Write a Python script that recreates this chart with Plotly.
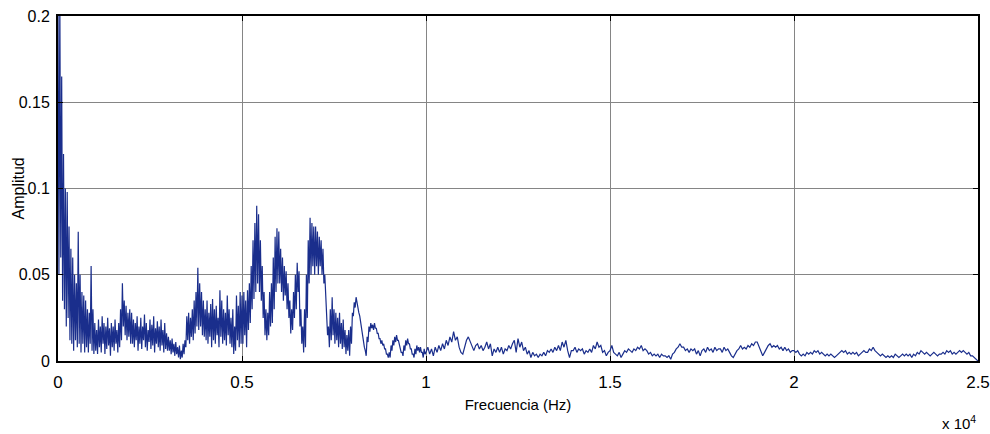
import numpy as np
import plotly.graph_objects as go

# ---- Spectrum data -------------------------------------------------------
# 0-10 kHz: noisy band, given as local peaks (at k*50 Hz) and troughs
# (at k*50 + 25 Hz), one 1 kHz row per line.
BAND_STEP_HZ = 50

peaks_0_10k = [
    0.21, 0.21, 0.165, 0.12, 0.1, 0.098, 0.078, 0.065, 0.06, 0.05, 0.045, 0.075, 0.05, 0.04, 0.038, 0.035, 0.03, 0.028, 0.055, 0.03,
    0.022, 0.018, 0.024, 0.02, 0.026, 0.022, 0.02, 0.025, 0.019, 0.022, 0.02, 0.024, 0.018, 0.022, 0.03, 0.045, 0.035, 0.032, 0.028, 0.03,
    0.028, 0.024, 0.022, 0.026, 0.02, 0.025, 0.02, 0.027, 0.022, 0.018, 0.024, 0.021, 0.026, 0.019, 0.023, 0.02, 0.024, 0.018, 0.022, 0.016,
    0.014, 0.012, 0.013, 0.01, 0.011, 0.008, 0.009, 0.006, 0.01, 0.012, 0.026, 0.028, 0.025, 0.03, 0.035, 0.04, 0.054, 0.045, 0.04, 0.035,
    0.03, 0.035, 0.028, 0.033, 0.036, 0.03, 0.032, 0.025, 0.041, 0.035, 0.03, 0.028, 0.038, 0.03, 0.025, 0.03, 0.02, 0.038, 0.032, 0.04,
    0.038, 0.04, 0.035, 0.041, 0.045, 0.055, 0.07, 0.08, 0.09, 0.085, 0.07, 0.055, 0.04, 0.03, 0.028, 0.04, 0.045, 0.06, 0.072, 0.077,
    0.075, 0.065, 0.06, 0.055, 0.052, 0.045, 0.035, 0.03, 0.04, 0.05, 0.057, 0.052, 0.03, 0.02, 0.03, 0.05, 0.07, 0.083, 0.08, 0.078,
    0.078, 0.075, 0.072, 0.07, 0.065, 0.05, 0.03, 0.02, 0.03, 0.037, 0.03, 0.028, 0.025, 0.028, 0.022, 0.024, 0.018, 0.015, 0.018, 0.02,
    0.028, 0.034, 0.037, 0.032, 0.026, 0.02, 0.012, 0.006, 0.014, 0.02, 0.022, 0.021, 0.022, 0.019, 0.016, 0.013, 0.012, 0.01, 0.007, 0.004,
    0.005, 0.009, 0.012, 0.014, 0.015, 0.012, 0.008, 0.005, 0.009, 0.012, 0.013, 0.01, 0.007, 0.004, 0.007, 0.009, 0.008, 0.008, 0.005, 0.007,
]

troughs_0_10k = [
    0.05, 0.06, 0.035, 0.03, 0.02, 0.025, 0.012, 0.01, 0.006, 0.012, 0.008, 0.01, 0.005, 0.01, 0.005, 0.008, 0.005, 0.01, 0.006, 0.004,
    0.006, 0.004, 0.008, 0.005, 0.01, 0.004, 0.007, 0.009, 0.003, 0.008, 0.006, 0.01, 0.005, 0.008, 0.012, 0.02, 0.015, 0.012, 0.014, 0.01,
    0.01, 0.008, 0.012, 0.006, 0.01, 0.007, 0.012, 0.008, 0.006, 0.011, 0.007, 0.009, 0.005, 0.01, 0.008, 0.006, 0.009, 0.005, 0.007, 0.006,
    0.006, 0.004, 0.005, 0.003, 0.004, 0.002, 0.001, 0.002, 0.004, 0.008, 0.012, 0.01, 0.014, 0.012, 0.016, 0.02, 0.018, 0.02, 0.015, 0.014,
    0.012, 0.01, 0.014, 0.008, 0.012, 0.01, 0.015, 0.008, 0.014, 0.01, 0.012, 0.009, 0.015, 0.01, 0.008, 0.004, 0.006, 0.012, 0.008, 0.01,
    0.01, 0.015, 0.008, 0.018, 0.022, 0.03, 0.036, 0.04, 0.045, 0.04, 0.035, 0.025, 0.015, 0.012, 0.015, 0.02, 0.022, 0.03, 0.04, 0.045,
    0.045, 0.04, 0.035, 0.038, 0.03, 0.025, 0.016, 0.018, 0.025, 0.03, 0.04, 0.02, 0.01, 0.005, 0.008, 0.025, 0.045, 0.05, 0.055, 0.05,
    0.055, 0.05, 0.055, 0.05, 0.045, 0.035, 0.015, 0.008, 0.012, 0.015, 0.01, 0.012, 0.008, 0.01, 0.007, 0.008, 0.004, 0.006, 0.003, 0.01,
    0.026, 0.031, 0.033, 0.028, 0.022, 0.016, 0.008, 0.003, 0.011, 0.017, 0.019, 0.018, 0.019, 0.016, 0.013, 0.01, 0.009, 0.007, 0.004, 0.002,
    0.002, 0.006, 0.009, 0.011, 0.012, 0.009, 0.005, 0.003, 0.006, 0.009, 0.01, 0.007, 0.004, 0.002, 0.004, 0.006, 0.005, 0.005, 0.002, 0.004,
]

# 10-25 kHz: low-level tail, one value every 50 Hz
TAIL_START_HZ = 10000
TAIL_STEP_HZ = 50

amp_10_15k = [
    0.005, 0.008, 0.004, 0.007, 0.003, 0.008, 0.005, 0.009, 0.006, 0.01,
    0.007, 0.012, 0.009, 0.014, 0.011, 0.017, 0.012, 0.014, 0.008, 0.005,
    0.004, 0.009, 0.012, 0.014, 0.011, 0.008, 0.006, 0.009, 0.01, 0.007,
    0.009, 0.006, 0.008, 0.011, 0.007, 0.01, 0.003, 0.007, 0.005, 0.008,
    0.005, 0.008, 0.004, 0.007, 0.006, 0.009, 0.007, 0.01, 0.012, 0.005,
    0.013, 0.008, 0.011, 0.006, 0.008, 0.004, 0.006, 0.002, 0.005, 0.003,
    0.004, 0.002, 0.004, 0.003, 0.005, 0.003, 0.006, 0.005, 0.007, 0.005,
    0.008, 0.006, 0.009, 0.006, 0.011, 0.008, 0.012, 0.006, 0.002, 0.006,
    0.006, 0.008, 0.005, 0.007, 0.006, 0.007, 0.004, 0.006, 0.005, 0.007,
    0.005, 0.009, 0.007, 0.011, 0.008, 0.009, 0.005, 0.006, 0.003, 0.005,
]

amp_15_20k = [
    0.006, 0.009, 0.005, 0.004, 0.003, 0.005, 0.002, 0.004, 0.006, 0.005,
    0.007, 0.006, 0.005, 0.007, 0.006, 0.008, 0.007, 0.009, 0.006, 0.007,
    0.006, 0.004, 0.005, 0.003, 0.004, 0.003, 0.004, 0.002, 0.004, 0.003,
    0.003, 0.002, 0.003, 0.001, 0.004, 0.005, 0.007, 0.008, 0.01, 0.008,
    0.008, 0.006, 0.007, 0.005, 0.007, 0.006, 0.007, 0.004, 0.006, 0.003,
    0.006, 0.007, 0.005, 0.008, 0.006, 0.007, 0.005, 0.008, 0.006, 0.007,
    0.007, 0.005, 0.008, 0.006, 0.007, 0.005, 0.003, 0.002, 0.004, 0.006,
    0.007, 0.009, 0.007, 0.008, 0.007, 0.009, 0.008, 0.01, 0.009, 0.011,
    0.011, 0.008, 0.006, 0.003, 0.005, 0.007, 0.009, 0.01, 0.008, 0.009,
    0.008, 0.009, 0.007, 0.008, 0.006, 0.008, 0.006, 0.007, 0.005, 0.006,
]

amp_20_25k = [
    0.006, 0.005, 0.006, 0.004, 0.003, 0.004, 0.003, 0.005, 0.004, 0.005,
    0.004, 0.006, 0.005, 0.006, 0.004, 0.005, 0.004, 0.003, 0.004, 0.003,
    0.004, 0.003, 0.002, 0.003, 0.004, 0.005, 0.006, 0.005, 0.006, 0.004,
    0.005, 0.004, 0.005, 0.004, 0.005, 0.003, 0.004, 0.005, 0.006, 0.005,
    0.005, 0.007, 0.006, 0.008, 0.006, 0.005, 0.004, 0.003, 0.004, 0.003,
    0.002, 0.003, 0.002, 0.003, 0.002, 0.004, 0.003, 0.002, 0.003, 0.004,
    0.003, 0.004, 0.003, 0.004, 0.002, 0.004, 0.003, 0.005, 0.004, 0.006,
    0.005, 0.004, 0.005, 0.004, 0.003, 0.004, 0.005, 0.004, 0.003, 0.004,
    0.004, 0.005, 0.004, 0.006, 0.005, 0.006, 0.004, 0.005, 0.004, 0.005,
    0.006, 0.005, 0.006, 0.005, 0.004, 0.005, 0.003, 0.003, 0.002, 0.001,
    0.0,
]

x_tick_vals = [0, 5000, 10000, 15000, 20000, 25000]
x_tick_text = ["0", "0.5", "1", "1.5", "2", "2.5"]
y_tick_vals = [0, 0.05, 0.1, 0.15, 0.2]
y_tick_text = ["0", "0.05", "0.1", "0.15", "0.2"]

# ---- Assemble one frequency/amplitude series ------------------------------
n_band = len(peaks_0_10k)
band_f = np.arange(n_band) * BAND_STEP_HZ
band_freq = np.empty(2 * n_band)
band_amp = np.empty(2 * n_band)
band_freq[0::2] = band_f
band_freq[1::2] = band_f + BAND_STEP_HZ / 2
band_amp[0::2] = peaks_0_10k
band_amp[1::2] = troughs_0_10k

tail_amp = np.array(amp_10_15k + amp_15_20k + amp_20_25k)
tail_freq = TAIL_START_HZ + np.arange(len(tail_amp)) * TAIL_STEP_HZ

frequency = np.concatenate([band_freq, tail_freq])
amplitude = np.concatenate([band_amp, tail_amp])

# ---- Figure ----------------------------------------------------------------
NARROW = "Liberation Sans Narrow, Arial Narrow, Liberation Sans, Arial, sans-serif"
REGULAR = "Liberation Sans, Arial, sans-serif"

fig = go.Figure(
    go.Scatter(
        x=frequency,
        y=amplitude,
        mode="lines",
        line=dict(color="#1a2e8c", width=1.2),
        showlegend=False,
        hoverinfo="skip",
    )
)

axis_common = dict(
    automargin=False,
    showgrid=True,
    gridcolor="#858585",
    gridwidth=1,
    zeroline=False,
    showline=True,
    linecolor="black",
    linewidth=2,
    mirror="ticks",
    ticks="inside",
    ticklen=5,
    tickcolor="black",
)

fig.update_xaxes(
    range=[0, 25000],
    tickmode="array",
    tickvals=x_tick_vals,
    ticktext=x_tick_text,
    ticklabelstandoff=5,
    tickfont=dict(family=NARROW, size=17, color="black"),
    title=dict(text="Frecuencia (Hz)", font=dict(family=NARROW, size=15, color="black"), standoff=8),
    **axis_common,
)
fig.update_yaxes(
    range=[0, 0.2],
    tickmode="array",
    tickvals=y_tick_vals,
    ticktext=y_tick_text,
    ticklabelstandoff=3,
    tickfont=dict(family=NARROW, size=16, color="black"),
    **axis_common,
)

# y-axis title placed at a fixed distance left of the plot
fig.add_annotation(
    text="Amplitud",
    xref="paper", yref="paper",
    x=-40 / 920, y=0.5,
    xanchor="center", yanchor="middle",
    textangle=-90,
    showarrow=False,
    font=dict(family=REGULAR, size=16, color="black"),
)

# exponent of the frequency axis
fig.add_annotation(
    text="x 10<sup>4</sup>",
    xref="paper", yref="paper",
    x=1.0, y=0,
    xanchor="right", yanchor="top",
    yshift=-50,
    showarrow=False,
    font=dict(family=NARROW, size=15, color="black"),
)

fig.update_layout(
    width=990,
    height=434,
    margin=dict(l=58, r=12, t=16, b=73),
    paper_bgcolor="white",
    plot_bgcolor="white",
)

fig.write_html("out.html")
